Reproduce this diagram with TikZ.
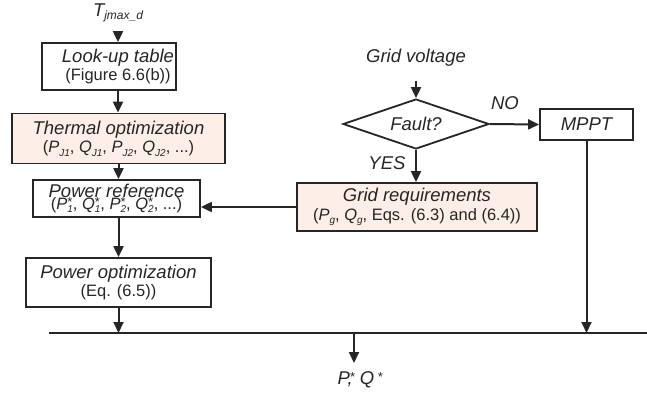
\documentclass[tikz,border=0pt]{standalone}
\usepackage{fontspec}
\setmainfont{Liberation Sans}
\usetikzlibrary{arrows.meta,shapes.geometric}
\definecolor{ln}{HTML}{262626}
\definecolor{peach}{HTML}{FDEFE7}
\newcommand{\mainf}{\fontsize{18.5}{21}\selectfont\itshape}
\newcommand{\subf}{\fontsize{16.5}{19}\selectfont}
\newcommand{\sbs}[1]{\raisebox{-3.2pt}{\fontsize{10}{10}\selectfont\itshape #1}}
\newcommand{\sps}[1]{\raisebox{3pt}{\fontsize{13}{13}\selectfont #1}}
\newcommand{\PQS}[2]{\textit{#1}\makebox[0pt][l]{\sps{*}}\sbs{#2}}
\begin{document}
\begin{tikzpicture}[x=1pt,y=-1pt,
  line width=2pt, color=ln, text=ln,
  arr/.style={-{Triangle[length=11pt,width=10pt]}},
  box/.style={draw=ln, line width=1.8pt, rectangle, inner sep=0pt},
  pbox/.style={box, fill=peach},
  txt/.style={align=center, inner sep=0pt},
  lbl/.style={inner sep=1pt, font=\mainf}]
\useasboundingbox (0,0) rectangle (647,394);
% left column
\node[lbl] (tj) at (118,13) {\textit{T}\raisebox{-3.5pt}{\fontsize{12}{12}\selectfont\itshape jmax\_d}};
\node[box, minimum width=134pt, minimum height=47pt] (lut) at (109,66.5) {};
\node[txt] (lutt) at (118,66.5) {{\mainf Look-up table}\\[2pt]{\subf (Figure 6.6(b))}};
\node[pbox, minimum width=213pt, minimum height=50pt] (therm) at (118.5,138.5) {};
\node[txt] (thermt) at (118.5,138.5) {{\mainf Thermal optimization}\\[2pt]{\subf (\textit{P}\sbs{J1}, \textit{Q}\sbs{J1}, \textit{P}\sbs{J2}, \textit{Q}\sbs{J2}, ...)}};
\node[box, minimum width=167pt, minimum height=37pt] (pref) at (116.5,198.5) {};
\node[txt] (preft) at (116.5,198.5) {{\mainf Power reference}\\[-2pt]{\subf (\PQS{P}{1}, \PQS{Q}{1}, \PQS{P}{2}, \PQS{Q}{2}, ...)}};
\node[box, minimum width=185pt, minimum height=49pt] (popt) at (118.5,282.5) {};
\node[txt] (poptt) at (118.5,282.5) {{\mainf Power optimization}\\[2pt]{\subf (Eq. (6.5))}};
% right part
\node[lbl] (gv) at (416,58) {Grid voltage};
\node[draw=ln, line width=1.8pt, diamond, aspect=2.9, minimum width=146pt, minimum height=50pt, inner sep=0pt, font=\mainf] (fault) at (416,124) {Fault?};
\node[box, minimum width=93pt, minimum height=31pt, font=\mainf] (mppt) at (586.5,124.5) {MPPT};
\node[lbl] (no) at (505,103) {NO};
\node[lbl] (yes) at (387,163) {YES};
\node[pbox, minimum width=240pt, minimum height=48pt] (greq) at (417,207) {};
\node[txt] (greqt) at (417,207) {{\mainf Grid requirements}\\[2pt]{\subf (\textit{P}\sbs{g}, \textit{Q}\sbs{g}, Eqs. (6.3) and (6.4))}};
% bus and output
\coordinate (busL) at (49,333);
\coordinate (busR) at (647,333);
\coordinate (outtop) at (354,333);
\coordinate (outend) at (354,363);
\node[lbl] (out) at (360,380) {\textit{P},\hspace{-3pt}\sps{*} \textit{Q}\,\sps{*}};
% connectors
\draw[arr] ([yshift=-9pt]tj.south) -- (tj.south |- lut.north);
\draw[arr] (lutt.south |- lut.south) -- (lutt.south |- therm.north);
\draw[arr] (therm.south) -- (therm.south |- pref.north);
\draw[arr] (therm.south |- pref.south) -- (therm.south |- popt.north);
\draw[arr] (popt.south) -- (popt.south |- busL);
\draw (busL) -- (busR);
\draw[arr] ([yshift=-12pt]gv.south) -- (fault.north);
\draw[arr] (fault.east) -- (mppt.west);
\draw[arr] (fault.south) -- (greq.north -| fault.south);
\draw[arr] (greq.west) -- (greq.west -| pref.east);
\draw[arr] (mppt.south) -- (mppt.south |- busL);
\draw[arr] (outtop) -- (outend);
\end{tikzpicture}
\end{document}
